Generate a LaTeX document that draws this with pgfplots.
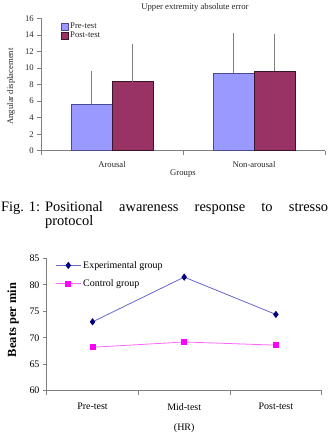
\documentclass[border=0pt]{standalone}
\usepackage{fontspec}
\setmainfont{Liberation Serif}
\usepackage{pgfplots}
\pgfplotsset{compat=1.18}
\definecolor{prebar}{HTML}{9999FF}
\definecolor{preedge}{HTML}{4A4A90}
\definecolor{postbar}{HTML}{993366}
\definecolor{postedge}{HTML}{3A1428}
\definecolor{axgray}{HTML}{808080}
\definecolor{expline}{HTML}{6666CC}
\definecolor{expmark}{HTML}{000080}
\definecolor{ctlline}{HTML}{FF66FF}
\definecolor{ctlmark}{HTML}{FF00FF}
\newcommand{\topfont}{\fontsize{8.7}{10}\selectfont}
\newcommand{\botfont}{\fontsize{10}{12}\selectfont}
\newcommand{\capfont}{\fontsize{14.5}{17}\selectfont}
\begin{document}
\begin{tikzpicture}
\path[use as bounding box] (0,0) rectangle (330bp,-437bp);
% ---------- top chart ----------
\begin{axis}[
  at={(41bp,-150.7bp)}, anchor=south west, scale only axis,
  width=284bp, height=132.4bp,
  xmin=-0.5, xmax=1.5, ymin=0, ymax=16,
  axis x line=bottom, axis y line=left,
  axis line style={-, axgray, line width=0.6bp},
  xtick={0,1}, xticklabels={Arousal,Non-arousal},
  minor xtick={-0.5,0.5,1.5},
  major x tick style={draw=none},
  ytick={0,2,...,16},
  tick align=outside, major tick length=3.7bp, minor tick length=4bp,
  tick style={axgray, line width=0.6bp},
  /pgf/number format/assume math mode=true,
  tick label style={font=\topfont, text=black!85},
  xticklabel style={yshift=-4bp},
  ybar=0pt, bar width=41bp,
  title={Upper extremity absolute error},
  every axis title/.style={at={(axis description cs:0.542,1)}, anchor=center, yshift=11.3bp, font=\topfont, text=black!85},
  ylabel={Angular displacement},
  every axis y label/.style={at={(axis description cs:0,0.5)}, xshift=-30bp, yshift=-2bp, anchor=center, rotate=90, font=\topfont, text=black!85},
  xlabel={Groups},
  every axis x label/.style={at={(axis description cs:0.5,0)}, anchor=center, yshift=-23.3bp, font=\topfont, text=black!85},
  legend style={at={(axis description cs:0.06,0.995)}, anchor=north west, draw=none, fill=none,
    font=\topfont, text=black!85, row sep=-2bp},
  legend cell align=left,
  legend image code/.code={\draw[#1] (0bp,-3.2bp) rectangle (6.5bp,3.2bp);},
]
\addplot[fill=prebar, draw=preedge, line width=0.5bp,
  error bars/.cd, y dir=plus, y explicit, error mark=-,
  error bar style={axgray, line width=0.8bp},
  error mark options={axgray, mark size=3.3bp, line width=0.8bp}]
  coordinates {(0,5.6) +- (0,3.63) (1,9.35) +- (0,4.51)};
\addplot[fill=postbar, draw=postedge, line width=0.5bp,
  error bars/.cd, y dir=plus, y explicit, error mark=-,
  error bar style={axgray, line width=0.8bp},
  error mark options={axgray, mark size=3.3bp, line width=0.8bp}]
  coordinates {(0,8.34) +- (0,4.16) (1,9.63) +- (0,4.03)};
\legend{Pre-test,Post-test}
\end{axis}
% ---------- caption ----------
\node[anchor=base west, inner sep=0, font=\capfont] at (1bp,-211bp) {Fig. 1:};
\node[anchor=base west, inner sep=0, font=\capfont] at (45bp,-211bp) {\makebox[283bp][s]{Positional awareness response to stresso}};
\node[anchor=base west, inner sep=0, font=\capfont] at (45bp,-225.5bp) {protocol};
% ---------- bottom chart ----------
\begin{axis}[
  at={(46.7bp,-390.7bp)}, anchor=south west, scale only axis,
  width=275bp, height=132.4bp,
  xmin=-0.5, xmax=2.5, ymin=60, ymax=85,
  axis x line=bottom, axis y line=left,
  axis line style={-, axgray, line width=0.6bp},
  xtick={0,1,2}, xticklabels={Pre-test,\raisebox{-2.7bp}{Mid-test},Post-test},
  minor xtick={-0.5,0.5,1.5,2.5},
  major x tick style={draw=none},
  ytick={60,65,...,85},
  tick align=outside, major tick length=3.7bp, minor tick length=4bp,
  tick style={axgray, line width=0.6bp},
  /pgf/number format/assume math mode=true,
  tick label style={font=\botfont},
  xticklabel style={yshift=-5.5bp},
  ylabel={\textbf{Beats per min}},
  every axis y label/.style={at={(axis description cs:0,0.5)}, xshift=-33.6bp, yshift=4.5bp, anchor=center, rotate=90, font=\fontsize{12.5}{14}\selectfont},
  xlabel={(HR)},
  every axis x label/.style={at={(axis description cs:0.5,0)}, anchor=center, yshift=-37bp, font=\botfont},
  legend style={at={(axis description cs:0.02,1.01)}, anchor=north west, draw=none, fill=none,
    font=\botfont, row sep=6bp},
  legend cell align=left,
  legend image code/.code={\draw[mark repeat=2, mark phase=2, #1] plot coordinates {(0bp,0bp) (12.5bp,0bp) (25bp,0bp)};},
]
\addplot[expline, line width=0.8bp, mark=diamond*,
  mark options={draw=expmark, fill=expmark, mark size=3bp}]
  coordinates {(0,73.0) (1,81.45) (2,74.4)};
\addplot[ctlline, line width=0.8bp, mark=square*,
  mark options={draw=ctlmark, fill=ctlmark, mark size=2.5bp}]
  coordinates {(0,68.2) (1,69.2) (2,68.6)};
\legend{Experimental group,Control group}
\end{axis}
\end{tikzpicture}
\end{document}
